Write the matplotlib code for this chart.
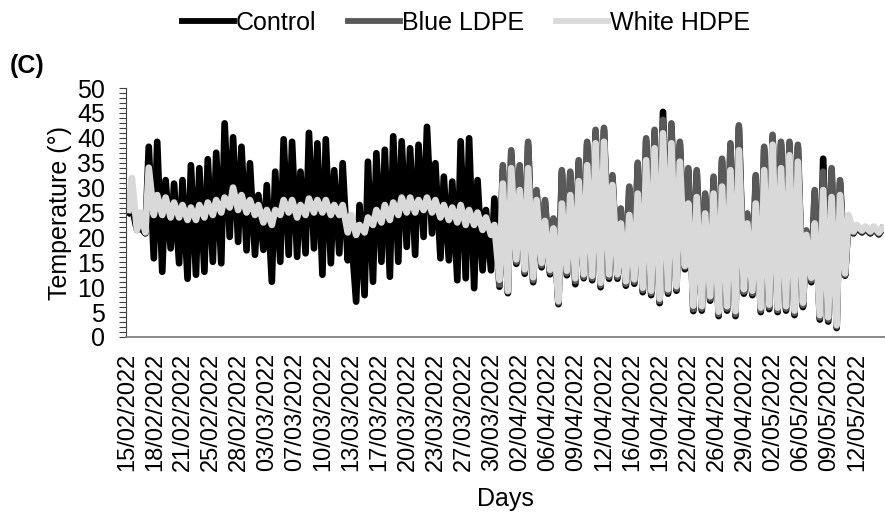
import matplotlib

matplotlib.use("Agg")
import matplotlib.pyplot as plt
import numpy as np
from matplotlib.ticker import MultipleLocator

plt.rcParams["font.family"] = ["Liberation Sans", "DejaVu Sans"]

# daily minimum / maximum, one value per day from 15/02/2022
control_max = [26.0, 22.0, 38.2, 39.2, 31.5, 30.8, 31.5, 34.5, 33.9, 35.7,
               37.0, 42.9, 40.1, 38.2, 34.9, 28.5, 30.5, 33.2, 39.7, 39.2,
               33.2, 41.0, 38.9, 39.7, 33.5, 34.9, 21.0, 26.5, 35.2, 36.9,
               37.6, 40.3, 39.3, 37.9, 38.6, 42.2, 34.9, 32.2, 31.2, 39.3,
               39.9, 31.5, 25.5, 27.8, 33.5, 36.8, 33.8, 38.5, 29.0, 27.0,
               23.3, 33.0, 32.7, 35.0, 38.7, 41.0, 41.5, 32.0, 25.3, 29.7,
               34.5, 39.4, 41.0, 45.2, 42.3, 38.7, 33.4, 33.0, 28.3, 31.7,
               35.3, 38.4, 42.0, 24.3, 32.0, 37.7, 40.1, 38.7, 38.7, 38.1,
               21.0, 29.0, 35.8, 33.4, 31.0, 23.5, 22.0, 21.8, 21.8, 21.6]
control_min = [25.0, 21.5, 20.8, 15.8, 13.1, 17.8, 14.8, 11.7, 12.5, 13.1,
               15.1, 14.8, 20.1, 19.1, 17.4, 16.5, 17.5, 11.1, 15.1, 16.5,
               16.1, 16.8, 17.8, 12.5, 14.8, 16.8, 15.4, 7.1, 8.4, 11.1,
               15.1, 12.1, 15.1, 18.1, 16.5, 20.1, 20.8, 15.8, 15.4, 11.4,
               11.8, 9.8, 13.4, 13.4, 10.1, 8.8, 14.7, 12.7, 11.0, 14.0,
               12.6, 6.6, 12.4, 10.6, 11.8, 11.4, 10.0, 11.7, 11.7, 10.3,
               10.7, 9.0, 8.4, 6.8, 8.7, 9.3, 13.6, 5.2, 5.3, 7.3,
               4.2, 5.3, 4.2, 8.7, 8.4, 5.0, 5.6, 5.0, 5.3, 4.4,
               6.0, 11.0, 3.5, 3.1, 1.8, 12.3, 20.8, 21.0, 20.8, 20.6]

# Blue LDPE readings start on day 44 (31/03/2022)
blue_first_day = 44
blue_max = [34.5, 37.5, 34.5, 39.2, 29.5, 27.5, 23.8, 33.5, 33.2, 35.5,
            39.2, 41.6, 42.0, 32.5, 25.8, 30.2, 35.0, 39.9, 41.6, 43.6,
            42.9, 39.2, 33.9, 33.5, 28.8, 32.2, 35.8, 38.9, 42.5, 24.8,
            32.5, 38.2, 40.6, 39.2, 39.2, 38.6, 21.4, 29.5, 33.2, 33.9,
            31.5, 24.0, 22.3, 22.0, 22.0, 21.8]
blue_min = [10.6, 9.1, 15.1, 13.1, 11.4, 14.4, 13.0, 6.9, 12.8, 11.2,
            12.1, 11.8, 10.4, 12.1, 12.1, 10.7, 11.1, 9.4, 8.8, 7.2,
            9.1, 9.7, 14.0, 5.6, 5.7, 7.7, 4.6, 5.7, 4.6, 9.1,
            8.8, 5.4, 6.0, 5.4, 5.7, 4.8, 6.4, 11.4, 3.9, 3.5,
            2.1, 12.5, 21.0, 21.2, 21.0, 20.8]

white_max = [31.9, 25.0, 34.0, 28.5, 28.0, 27.0, 26.5, 26.0, 26.5, 27.0,
             27.5, 28.0, 30.0, 28.5, 27.5, 26.5, 25.5, 25.5, 27.5, 27.5,
             26.5, 27.8, 27.5, 27.5, 26.5, 26.5, 24.5, 22.5, 24.0, 25.5,
             26.5, 27.0, 28.0, 28.0, 27.5, 28.0, 27.5, 26.5, 26.0, 26.5,
             25.5, 25.0, 24.0, 22.5, 30.8, 33.9, 29.5, 33.9, 27.5, 23.3,
             21.8, 26.8, 28.5, 31.3, 34.5, 38.9, 39.2, 30.5, 22.8, 24.5,
             28.8, 35.5, 37.9, 40.9, 38.9, 35.2, 26.8, 28.1, 24.8, 28.8,
             30.2, 33.5, 37.5, 22.8, 26.8, 33.5, 38.6, 33.9, 36.5, 35.2,
             20.5, 22.8, 29.5, 28.1, 28.5, 24.5, 22.5, 22.2, 22.2, 21.8]
white_min = [25.5, 21.5, 21.0, 24.5, 24.5, 24.0, 24.0, 23.5, 23.5, 24.0,
             24.5, 25.0, 26.0, 25.5, 25.0, 24.5, 23.0, 22.5, 24.5, 25.0,
             24.0, 24.5, 25.0, 25.0, 24.5, 24.5, 21.0, 20.5, 21.0, 22.5,
             23.0, 23.5, 24.5, 25.0, 25.0, 25.5, 25.0, 24.0, 23.5, 23.0,
             22.5, 22.5, 21.5, 20.5, 11.5, 9.3, 15.6, 13.6, 12.0, 14.9,
             13.5, 7.2, 13.3, 11.8, 12.6, 12.3, 10.9, 12.6, 12.6, 11.2,
             11.6, 9.9, 9.3, 7.7, 9.6, 10.2, 14.3, 6.3, 6.2, 8.2,
             5.1, 6.2, 5.2, 9.6, 9.3, 5.9, 6.5, 5.9, 6.2, 5.3,
             6.9, 11.9, 4.4, 4.0, 2.4, 12.8, 21.2, 21.4, 21.2, 21.0]

tick_labels = ["15/02/2022", "18/02/2022", "21/02/2022", "25/02/2022", "28/02/2022",
               "03/03/2022", "07/03/2022", "10/03/2022", "13/03/2022", "17/03/2022",
               "20/03/2022", "23/03/2022", "27/03/2022", "30/03/2022", "02/04/2022",
               "06/04/2022", "09/04/2022", "12/04/2022", "16/04/2022", "19/04/2022",
               "22/04/2022", "26/04/2022", "29/04/2022", "02/05/2022", "06/05/2022",
               "09/05/2022", "12/05/2022"]
hours_per_label = 80


def daily_trace(first_day, lows, highs):
    # morning low then afternoon high for every day
    days = first_day + np.arange(len(lows))
    x = np.column_stack([days + 0.2, days + 0.6]).ravel()
    y = np.column_stack([lows, highs]).ravel()
    return x, y


fig = plt.figure(figsize=(8.85, 5.15), dpi=100)
ax = fig.add_axes([126 / 885, (515 - 337) / 515, 758 / 885, (337 - 88) / 515])

series = [
    ("Control", "#000000", 0, control_min, control_max),
    ("Blue LDPE", "#595959", blue_first_day, blue_min, blue_max),
    ("White HDPE", "#d9d9d9", 0, white_min, white_max),
]
for name, color, first_day, lows, highs in series:
    x, y = daily_trace(first_day, lows, highs)
    ax.plot(x, y, color=color, lw=4.8, label=name, solid_joinstyle="round")

ax.set_xlim(-0.1, -0.1 + 758 / 8.43)
ax.set_ylim(0, 50)
ax.yaxis.set_major_locator(MultipleLocator(5))
ax.yaxis.set_minor_locator(MultipleLocator(1))
ax.tick_params(axis="y", which="both", direction="out", length=5, width=0.8,
               color="#404040", labelsize=18, pad=10)
ticks = np.arange(len(tick_labels)) * hours_per_label / 24
ax.set_xticks(ticks)
ax.set_xticklabels(tick_labels, rotation=90, fontsize=17)
ax.tick_params(axis="x", length=0, pad=11)

for side in ["top", "right"]:
    ax.spines[side].set_visible(False)
ax.spines["left"].set_color("#404040")
ax.spines["bottom"].set_color("#808080")
ax.spines["bottom"].set_linewidth(1.3)

ax.set_ylabel("Temperature (°)", fontsize=18, labelpad=4)
ax.set_xlabel("Days", fontsize=18, labelpad=12)

leg = fig.legend(loc="center", bbox_to_anchor=(466 / 885, 1 - 23 / 515), ncol=3, frameon=False,
                 fontsize=18, handlelength=2.1, handletextpad=0.08, columnspacing=1.25)
for line in leg.get_lines():
    line.set_linewidth(4.2)
fig.text(10 / 885, 1 - 66 / 515, "(C)", fontsize=18, fontweight="bold", va="center")

fig.savefig("out.png", dpi=100)
